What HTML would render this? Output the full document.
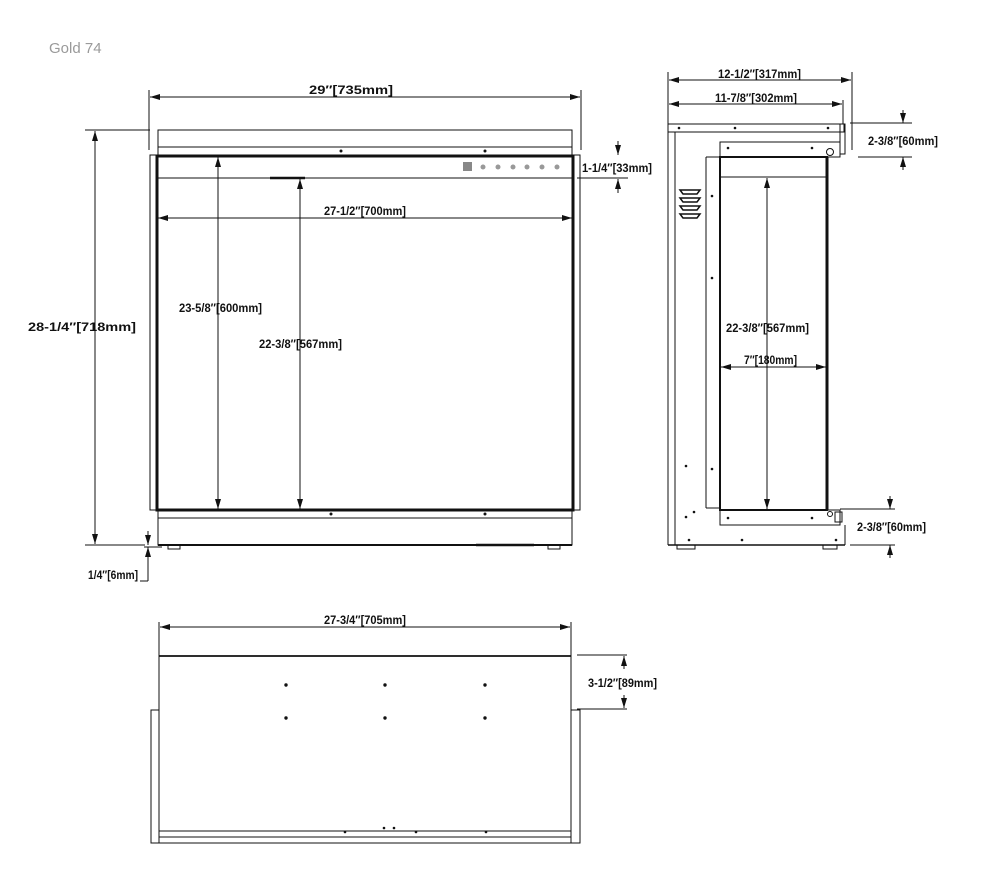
<!DOCTYPE html>
<html><head><style>
html,body{margin:0;padding:0;background:#fff;}
svg{display:block}
text{font-family:"Liberation Sans Narrow","Liberation Sans",sans-serif;font-weight:bold;font-size:12px;fill:#111}
</style></head><body>
<svg width="1000" height="890" viewBox="0 0 1000 890" xmlns="http://www.w3.org/2000/svg">
<defs>
<marker id="a" viewBox="0 0 10 6" refX="10" refY="3" markerWidth="10" markerHeight="6" orient="auto-start-reverse" markerUnits="userSpaceOnUse"><path d="M0,0 L10,3 L0,6 z" fill="#111"/></marker>
</defs>
<text x="49" y="53" style="font-family:'Liberation Sans',sans-serif;font-weight:normal;font-size:15px;fill:#9a9a9a">Gold 74</text>

<g stroke="#111" fill="none" stroke-width="1">
<!-- FRONT VIEW -->
<line x1="149" y1="90" x2="149" y2="150"/><line x1="581" y1="90" x2="581" y2="150"/>
<line x1="150" y1="97" x2="580" y2="97" marker-start="url(#a)" marker-end="url(#a)"/>
<rect x="158" y="130" width="414" height="25"/>
<line x1="158" y1="147" x2="572" y2="147"/>
<rect x="150" y="155" width="430" height="355"/>
<rect x="157" y="156" width="416" height="354" stroke-width="3"/>
<line x1="157" y1="178" x2="573" y2="178"/>
<line x1="270" y1="178" x2="305" y2="178" stroke-width="2.5"/>
<rect x="158" y="510" width="414" height="35"/>
<line x1="158" y1="518" x2="572" y2="518"/>
<line x1="158" y1="545" x2="572" y2="545" stroke-width="2"/>
<rect x="168" y="545" width="12" height="4"/><rect x="548" y="545" width="12" height="4"/>
<line x1="476" y1="545" x2="534" y2="545" stroke-width="2.5"/>
<!-- left dim -->
<line x1="85" y1="130" x2="150" y2="130"/><line x1="85" y1="545" x2="145" y2="545"/>
<line x1="95" y1="131" x2="95" y2="544" marker-start="url(#a)" marker-end="url(#a)"/>
<line x1="144" y1="547" x2="162" y2="547"/>
<line x1="148" y1="531" x2="148" y2="545" marker-end="url(#a)"/>
<line x1="148" y1="581" x2="148" y2="547" marker-end="url(#a)"/>
<line x1="140" y1="581" x2="148" y2="581"/>
<line x1="218" y1="157" x2="218" y2="509" marker-start="url(#a)" marker-end="url(#a)"/>
<line x1="300" y1="179" x2="300" y2="509" marker-start="url(#a)" marker-end="url(#a)"/>
<line x1="158" y1="218" x2="572" y2="218" marker-start="url(#a)" marker-end="url(#a)"/>
<line x1="577" y1="178" x2="628" y2="178"/>
<line x1="618" y1="141" x2="618" y2="155" marker-end="url(#a)"/>
<line x1="618" y1="193" x2="618" y2="179" marker-end="url(#a)"/>

<!-- SIDE VIEW -->
<line x1="668" y1="72" x2="668" y2="124"/><line x1="852" y1="72" x2="852" y2="150"/><line x1="843" y1="100" x2="843" y2="124"/>
<line x1="669" y1="80" x2="851" y2="80" marker-start="url(#a)" marker-end="url(#a)"/>
<line x1="669" y1="104" x2="842" y2="104" marker-start="url(#a)" marker-end="url(#a)"/>
<rect x="668" y="124" width="176" height="8"/>
<rect x="840" y="124" width="5" height="30"/>
<line x1="668" y1="132" x2="668" y2="545"/><line x1="675" y1="132" x2="675" y2="545"/>
<rect x="720" y="142" width="120" height="15"/>
<line x1="706" y1="157" x2="720" y2="157"/><line x1="706" y1="157" x2="706" y2="508"/><line x1="706" y1="508" x2="720" y2="508"/>
<rect x="720" y="157" width="107" height="353" stroke-width="2"/>
<line x1="827" y1="157" x2="827" y2="510" stroke-width="3"/>
<line x1="720" y1="177" x2="827" y2="177"/>
<rect x="720" y="510" width="120" height="15"/>
<rect x="835" y="512" width="7" height="10"/>
<line x1="668" y1="545" x2="845" y2="545" stroke-width="1.5"/>
<line x1="845" y1="525" x2="845" y2="545"/>
<rect x="677" y="545" width="18" height="4"/><rect x="823" y="545" width="14" height="4"/>
<circle cx="830" cy="152" r="3.5"/><circle cx="830" cy="514" r="2.5"/>
<path d="M680,190 h20 l-3,4 h-14 z M680,198 h20 l-3,4 h-14 z M680,206 h20 l-3,4 h-14 z M680,214 h20 l-3,4 h-14 z" stroke-width="1.5"/>
<line x1="767" y1="178" x2="767" y2="509" marker-start="url(#a)" marker-end="url(#a)"/>
<line x1="721" y1="367" x2="826" y2="367" marker-start="url(#a)" marker-end="url(#a)"/>
<line x1="850" y1="123" x2="912" y2="123"/><line x1="858" y1="157" x2="912" y2="157"/>
<line x1="903" y1="110" x2="903" y2="123" marker-end="url(#a)"/>
<line x1="903" y1="170" x2="903" y2="157" marker-end="url(#a)"/>
<line x1="840" y1="509" x2="895" y2="509"/><line x1="850" y1="545" x2="895" y2="545"/>
<line x1="890" y1="496" x2="890" y2="509" marker-end="url(#a)"/>
<line x1="890" y1="558" x2="890" y2="545" marker-end="url(#a)"/>

<!-- TOP VIEW -->
<line x1="159" y1="622" x2="159" y2="656"/><line x1="571" y1="622" x2="571" y2="656"/>
<line x1="160" y1="627" x2="570" y2="627" marker-start="url(#a)" marker-end="url(#a)"/>
<rect x="159" y="656" width="412" height="187"/>
<line x1="159" y1="656" x2="571" y2="656" stroke-width="1.8"/>
<line x1="159" y1="831" x2="571" y2="831"/><line x1="159" y1="837" x2="571" y2="837"/>
<rect x="151" y="710" width="8" height="133"/><rect x="571" y="710" width="9" height="133"/>
<line x1="577" y1="655" x2="627" y2="655"/><line x1="577" y1="709" x2="627" y2="709"/>
<line x1="624" y1="669" x2="624" y2="656" marker-end="url(#a)"/>
<line x1="624" y1="695" x2="624" y2="708" marker-end="url(#a)"/>
</g>

<g fill="#111">
<circle cx="341" cy="151" r="1.5"/><circle cx="485" cy="151" r="1.5"/>
<circle cx="331" cy="514" r="1.5"/><circle cx="485" cy="514" r="1.5"/>
<rect x="463" y="162" width="9" height="9" fill="#888"/>
<g fill="#999"><circle cx="483" cy="167" r="2.5"/><circle cx="498" cy="167" r="2.5"/><circle cx="513" cy="167" r="2.5"/><circle cx="527" cy="167" r="2.5"/><circle cx="542" cy="167" r="2.5"/><circle cx="557" cy="167" r="2.5"/></g>
<circle cx="679" cy="128" r="1.3"/><circle cx="735" cy="128" r="1.3"/><circle cx="828" cy="128" r="1.3"/>
<circle cx="728" cy="148" r="1.3"/><circle cx="812" cy="148" r="1.3"/>
<circle cx="712" cy="196" r="1.3"/><circle cx="712" cy="278" r="1.3"/><circle cx="712" cy="469" r="1.3"/>
<circle cx="686" cy="466" r="1.3"/><circle cx="686" cy="517" r="1.3"/><circle cx="694" cy="512" r="1.3"/>
<circle cx="728" cy="518" r="1.3"/><circle cx="812" cy="518" r="1.3"/>
<circle cx="689" cy="540" r="1.3"/><circle cx="742" cy="540" r="1.3"/><circle cx="836" cy="540" r="1.3"/>
<circle cx="286" cy="685" r="1.7"/><circle cx="385" cy="685" r="1.7"/><circle cx="485" cy="685" r="1.7"/>
<circle cx="286" cy="718" r="1.7"/><circle cx="385" cy="718" r="1.7"/><circle cx="485" cy="718" r="1.7"/>
<circle cx="345" cy="832" r="1.3"/><circle cx="384" cy="828" r="1.3"/><circle cx="394" cy="828" r="1.3"/><circle cx="416" cy="832" r="1.3"/><circle cx="486" cy="832" r="1.3"/>
</g>

<g>
<text x="309" y="94" textLength="84" lengthAdjust="spacingAndGlyphs">29″[735mm]</text>
<text x="324" y="215" textLength="82" lengthAdjust="spacingAndGlyphs">27-1/2″[700mm]</text>
<text x="582" y="172" textLength="70" lengthAdjust="spacingAndGlyphs">1-1/4″[33mm]</text>
<text x="28" y="331" textLength="108" lengthAdjust="spacingAndGlyphs">28-1/4″[718mm]</text>
<text x="179" y="312" textLength="83" lengthAdjust="spacingAndGlyphs">23-5/8″[600mm]</text>
<text x="259" y="348" textLength="83" lengthAdjust="spacingAndGlyphs">22-3/8″[567mm]</text>
<text x="88" y="579" textLength="50" lengthAdjust="spacingAndGlyphs">1/4″[6mm]</text>
<text x="718" y="78" textLength="83" lengthAdjust="spacingAndGlyphs">12-1/2″[317mm]</text>
<text x="715" y="102" textLength="82" lengthAdjust="spacingAndGlyphs">11-7/8″[302mm]</text>
<text x="868" y="145" textLength="70" lengthAdjust="spacingAndGlyphs">2-3/8″[60mm]</text>
<text x="726" y="332" textLength="83" lengthAdjust="spacingAndGlyphs">22-3/8″[567mm]</text>
<text x="744" y="364" textLength="53" lengthAdjust="spacingAndGlyphs">7″[180mm]</text>
<text x="857" y="531" textLength="69" lengthAdjust="spacingAndGlyphs">2-3/8″[60mm]</text>
<text x="324" y="624" textLength="82" lengthAdjust="spacingAndGlyphs">27-3/4″[705mm]</text>
<text x="588" y="687" textLength="69" lengthAdjust="spacingAndGlyphs">3-1/2″[89mm]</text>
</g>
</svg>
</body></html>
